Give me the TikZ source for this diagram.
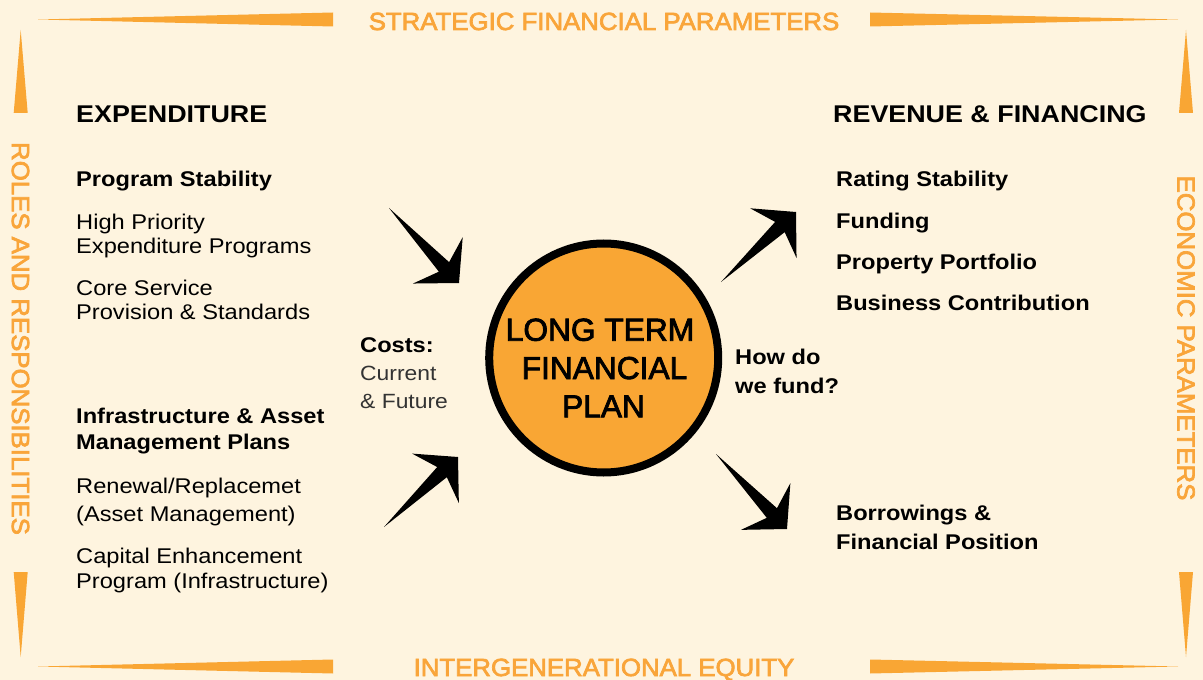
\documentclass[tikz,border=0pt]{standalone}
\usepackage{fontspec}
\setmainfont{Liberation Sans}
\newfontfamily\wfont{Liberation Sans}[FakeStretch=1.11]
\newfontfamily\medwide{Liberation Sans}[FakeStretch=1.04]
\usetikzlibrary{calc}
\definecolor{bgc}{HTML}{FEF4DF}
\definecolor{org}{HTML}{F9A634}
\definecolor{orgtxt}{HTML}{F9A53A}
\newcommand\heavy[2]{\special{pdf:literal direct #1 w 2 Tr}#2\special{pdf:literal direct 0 Tr 0.4 w}}
\tikzset{
  txt/.style={anchor=base west, inner sep=0pt, text=black, font=\wfont\fontsize{21.3bp}{24bp}\selectfont},
  btxt/.style={txt, font=\wfont\bfseries\fontsize{21.3bp}{24bp}\selectfont},
  head/.style={anchor=base west, inner sep=0pt, text=black, font=\wfont\bfseries\fontsize{24.2bp}{28bp}\selectfont},
  outer/.style={inner sep=0pt, text=orgtxt, font=\medwide\fontsize{24.8bp}{28bp}\selectfont},
  ctxt/.style={anchor=base, inner sep=0pt, text=black, font=\fontsize{31.7bp}{38bp}\selectfont},
  wedge/.style={fill=org},
  bigarrow/.style={fill=black}
}
\newcommand\fatarrow[2]{%
  \fill[bigarrow] (#1) -- ($(#2)!22bp!(#1)!7bp!90:(#1)$) -- ($(#2)!31bp!(#1)!34bp!90:(#1)$)
   -- (#2) -- ($(#2)!31bp!(#1)!34bp!-90:(#1)$) -- ($(#2)!22bp!(#1)!7bp!-90:(#1)$) -- cycle;}
\begin{document}
\begin{tikzpicture}[x=1bp,y=-1bp]
\useasboundingbox (0,0) rectangle (1203,680);
\fill[bgc] (0,0) rectangle (1203,680);
% frame wedges
\fill[wedge] (38,19.5) -- (333,12.5) -- (333,26.5) -- cycle;
\fill[wedge] (1178,19.5) -- (870,12.5) -- (870,26.5) -- cycle;
\fill[wedge] (38,666.5) -- (333,659.5) -- (333,673.5) -- cycle;
\fill[wedge] (1178,666.5) -- (870,659.5) -- (870,673.5) -- cycle;
\fill[wedge] (20.7,30) -- (13.7,113) -- (27.7,113) -- cycle;
\fill[wedge] (20.7,657) -- (13.7,572) -- (27.7,572) -- cycle;
\fill[wedge] (1186,30) -- (1179,113) -- (1193,113) -- cycle;
\fill[wedge] (1186,657) -- (1179,572) -- (1193,572) -- cycle;
% frame labels
\node[outer, anchor=base] (ltop) at (604,30) {\heavy{0.7}{STRATEGIC FINANCIAL PARAMETERS}};
\node[outer, anchor=base] (lbot) at (604,676) {\heavy{0.7}{INTERGENERATIONAL EQUITY}};
\node[outer, rotate=-90] (lleft) at (20.5,338.5) {\heavy{0.7}{ROLES AND RESPONSIBILITIES}};
\node[outer, rotate=-90] (lright) at (1186,338) {\heavy{0.7}{ECONOMIC PARAMETERS}};
% circle
\node[circle, draw=black, line width=8bp, fill=org, minimum size=229bp, inner sep=0pt] (plan) at (603.7,358) {};
\node[ctxt] (c1) at (600,340.7) {\heavy{0.8}{LONG TERM}};
\node[ctxt] (c2) at (604.5,379) {\heavy{0.8}{FINANCIAL}};
\node[ctxt] (c3) at (603.5,417.3) {\heavy{0.8}{PLAN}};
% left column
\node[head] (exp) at (76,122.3) {EXPENDITURE};
\node[btxt] (ps) at (76,186.7) {Program Stability};
\node[txt] (hp1) at (76,229.3) {High Priority};
\node[txt] (hp2) at (76,253.3) {Expenditure Programs};
\node[txt] (cs1) at (76,295.5) {Core Service};
\node[txt] (cs2) at (76,319.5) {Provision \& Standards};
\node[btxt] (ia1) at (76,423.5) {Infrastructure \& Asset};
\node[btxt] (ia2) at (76,449) {Management Plans};
\node[txt] (rr1) at (76,493.5) {Renewal/Replacemet};
\node[txt] (rr2) at (76,521) {(Asset Management)};
\node[txt] (ce1) at (76,563.5) {Capital Enhancement};
\node[txt] (ce2) at (76,588) {Program (Infrastructure)};
% right column
\node[head] (rev) at (833,122.3) {REVENUE \& FINANCING};
\node[btxt] (rs) at (836,186.7) {Rating Stability};
\node[btxt] (fu) at (836,228.5) {Funding};
\node[btxt] (pp) at (836,269.5) {Property Portfolio};
\node[btxt] (bc) at (836,310.5) {Business Contribution};
\node[btxt] (bf1) at (836,520.5) {Borrowings \&};
\node[btxt] (bf2) at (836,549.5) {Financial Position};
% middle labels
\node[btxt] (co1) at (360,352) {Costs:};
\node[txt, text=black!80, font=\wfont\fontsize{20.6bp}{24bp}\selectfont] (co2) at (360,380.5) {Current};
\node[txt, text=black!80, font=\wfont\fontsize{20.6bp}{24bp}\selectfont] (co3) at (360,408.5) {\& Future};
\node[btxt] (hd1) at (735,364.5) {How do};
\node[btxt] (hd2) at (735,393) {we fund?};
% arrows
\coordinate (a1t) at (389,208); \coordinate (a1h) at (459,283);
\coordinate (a2t) at (721,282); \coordinate (a2h) at (796,212);
\coordinate (a3t) at (384,527); \coordinate (a3h) at (458,457);
\coordinate (a4t) at (716,454); \coordinate (a4h) at (787,529);
\fatarrow{a1t}{a1h}
\fatarrow{a2t}{a2h}
\fatarrow{a3t}{a3h}
\fatarrow{a4t}{a4h}
\end{tikzpicture}
\end{document}
